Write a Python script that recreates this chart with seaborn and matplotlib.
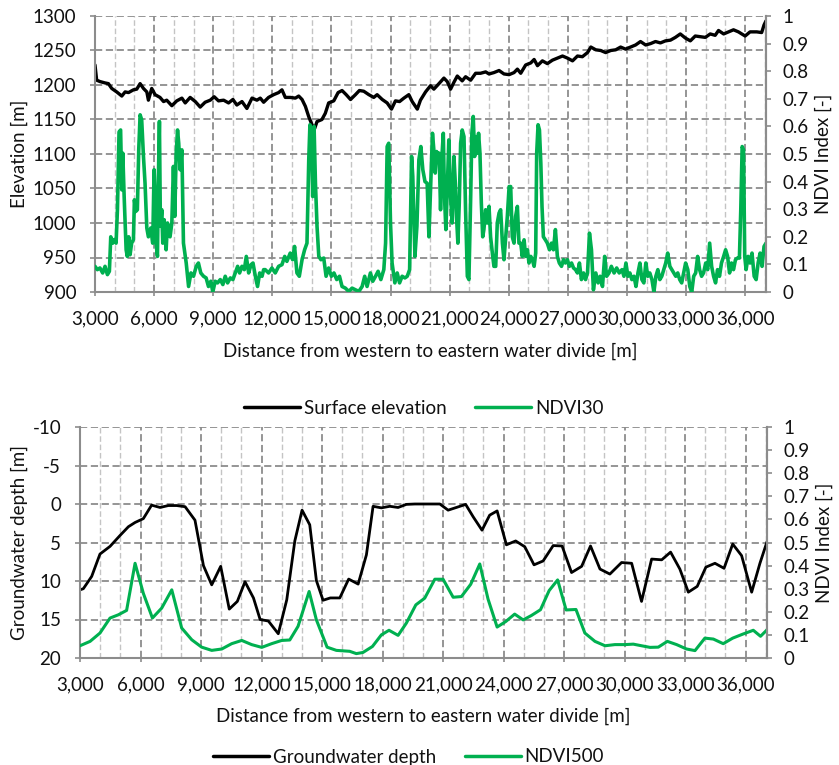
import numpy as np
import pandas as pd
import matplotlib
matplotlib.use("Agg")
import matplotlib.pyplot as plt
from matplotlib.ticker import MultipleLocator, FuncFormatter
from matplotlib.lines import Line2D
import seaborn as sns

# ---------------- DATA ----------------
# Top panel: surface elevation [m]
elev_dist = [3000, 3085, 3250, 3510, 3680, 3850, 4100, 4360, 4530, 4700, 4950, 5120, 5290, 5460, 5630,
             5710, 5880, 6050, 6300, 6480, 6640, 6900, 7150, 7410, 7580, 7830, 8090, 8340, 8590, 8850,
             9050, 9270, 9530, 9780, 10000, 10200, 10460, 10710, 10970, 11220, 11390, 11560, 11810, 12070,
             12320, 12490, 12660, 12910, 13170, 13340, 13510, 13680, 13850, 14020, 14150, 14270, 14520,
             14690, 14860, 15120, 15340, 15540, 15750, 15970, 16220, 16420, 16640, 16900, 17150, 17320,
             17580, 17830, 18050, 18250, 18460, 18680, 18930, 19100, 19360, 19520, 19780, 20030, 20200,
             20460, 20710, 20880, 21050, 21220, 21390, 21640, 21810, 22070, 22320, 22570, 22830, 23000,
             23250, 23510, 23760, 24020, 24270, 24440, 24610, 24860, 25120, 25290, 25460, 25710, 25960,
             26220, 26470, 26730, 26980, 27240, 27490, 27740, 28000, 28170, 28420, 28670, 28920, 29180,
             29430, 29680, 29930, 30190, 30440, 30690, 30950, 31200, 31450, 31700, 31960, 32210, 32460,
             32710, 32970, 33220, 33470, 33730, 33980, 34230, 34480, 34650, 34910, 35160, 35410, 35660,
             36000, 36250, 36590, 36840, 36960, 37060]
elevation = [1229, 1207, 1205, 1203, 1202, 1195, 1190, 1184, 1190, 1189, 1193, 1194, 1202, 1195, 1190,
             1178, 1195, 1186, 1182, 1176, 1178, 1170, 1177, 1181, 1174, 1182, 1176, 1168, 1175, 1178,
             1183, 1177, 1178, 1174, 1179, 1171, 1176, 1166, 1181, 1178, 1181, 1175, 1182, 1186,
             1189, 1193, 1182, 1182, 1181, 1184, 1179, 1169, 1154, 1142, 1137, 1147, 1150,
             1159, 1174, 1177, 1189, 1192, 1186, 1179, 1186, 1192, 1191, 1186, 1182, 1186,
             1179, 1174, 1165, 1177, 1176, 1181, 1186, 1176, 1165, 1178, 1190, 1199, 1194,
             1202, 1210, 1205, 1194, 1204, 1213, 1206, 1212, 1207, 1217, 1217, 1219, 1216,
             1218, 1221, 1216, 1215, 1218, 1223, 1217, 1229, 1232, 1237, 1228, 1235, 1231,
             1236, 1239, 1242, 1239, 1235, 1242, 1241, 1247, 1255, 1251, 1250, 1247, 1250,
             1251, 1255, 1252, 1255, 1258, 1263, 1258, 1260, 1263, 1261, 1264, 1265, 1269,
             1274, 1268, 1264, 1271, 1270, 1269, 1274, 1272, 1279, 1274, 1277, 1280, 1277,
             1271, 1277, 1277, 1276, 1287, 1293]

# Top panel: NDVI30 [-]
ndvi30_dist = [3000, 3120, 3250, 3390, 3510, 3630, 3730, 3800, 3900, 3970, 4070, 4140, 4220, 4300, 4360,
               4410, 4480, 4580, 4640, 4710, 4780, 4860, 4950, 5000, 5070, 5150, 5220, 5290, 5370, 5460,
               5540, 5630, 5710, 5830, 5930, 6000, 6050, 6100, 6170, 6220, 6270, 6320, 6390, 6440, 6510,
               6610, 6680, 6810, 6900, 6980, 7050, 7120, 7190, 7250, 7320, 7410, 7490, 7630, 7750, 7870,
               8000, 8140, 8250, 8370, 8510, 8640, 8760, 8880, 8980, 9100, 9220, 9360, 9490, 9610, 9730,
               9870, 10000, 10120, 10240, 10340, 10460, 10580, 10680, 10800, 10920, 11020, 11140, 11250,
               11360, 11480, 11560, 11640, 11810, 11980, 12150, 12320, 12490, 12630, 12740, 12910, 13030,
               13130, 13250, 13370, 13510, 13640, 13760, 13850, 13910, 13980, 14050, 14120, 14190, 14270,
               14360, 14470, 14610, 14730, 14860, 15000, 15130, 15270, 15410, 15540, 15710, 15880, 16050,
               16220, 16390, 16560, 16690, 16810, 16980, 17100, 17240, 17370, 17510, 17660, 17750, 17830,
               17910, 18000, 18080, 18220, 18340, 18460, 18590, 18730, 18850, 18970, 19070, 19130, 19240,
               19340, 19440, 19540, 19640, 19750, 19860, 19950, 20070, 20130, 20200, 20270, 20340, 20400,
               20470, 20540, 20610, 20680, 20740, 20810, 20880, 20960, 21050, 21130, 21220, 21290, 21350,
               21420, 21490, 21560, 21640, 21730, 21810, 21900, 21980, 22070, 22130, 22200, 22270, 22340,
               22410, 22470, 22540, 22610, 22680, 22740, 22830, 22910, 23000, 23080, 23170, 23250, 23340,
               23420, 23510, 23590, 23680, 23760, 23850, 23930, 24020, 24100, 24180, 24270, 24350, 24440,
               24520, 24610, 24690, 24780, 24860, 24950, 25030, 25120, 25200, 25290, 25370, 25420, 25490,
               25560, 25630, 25690, 25760, 25860, 25960, 26070, 26170, 26270, 26370, 26470, 26570, 26680,
               26780, 26880, 26980, 27080, 27190, 27290, 27390, 27490, 27590, 27690, 27800, 27900, 28000,
               28100, 28200, 28300, 28420, 28540, 28640, 28760, 28870, 28970, 29090, 29210, 29350, 29480,
               29610, 29750, 29850, 29950, 30050, 30150, 30250, 30360, 30460, 30560, 30660, 30760, 30860,
               30960, 31060, 31160, 31270, 31370, 31470, 31570, 31670, 31770, 31870, 31970, 32070, 32180,
               32280, 32380, 32480, 32580, 32680, 32780, 32880, 32980, 33090, 33190, 33290, 33390, 33490,
               33590, 33690, 33790, 33890, 34000, 34100, 34200, 34300, 34400, 34500, 34600, 34700, 34800,
               34910, 35010, 35110, 35210, 35310, 35410, 35510, 35610, 35710, 35780, 35850, 35920, 35980,
               36050, 36150, 36250, 36350, 36460, 36560, 36660, 36760, 36860, 36960, 37060]
ndvi30 = [0.093, 0.081, 0.087, 0.069, 0.093, 0.063, 0.075, 0.200, 0.177, 0.190, 0.177, 0.300, 0.580, 0.587, 0.370,
          0.503, 0.346, 0.153, 0.129, 0.200, 0.135, 0.177, 0.190, 0.334, 0.292, 0.298, 0.515, 0.642, 0.624, 0.491,
          0.394, 0.232, 0.200, 0.232, 0.177, 0.443, 0.346, 0.177, 0.129, 0.419, 0.618, 0.238, 0.298, 0.177, 0.262,
          0.153, 0.250, 0.200, 0.250, 0.455, 0.274, 0.503, 0.587, 0.539, 0.443, 0.515, 0.177, 0.105, 0.020, 0.069,
          0.057, 0.093, 0.105, 0.069, 0.057, 0.051, 0.020, 0.039, 0.000, 0.039, 0.033, 0.045, 0.027, 0.057, 0.033,
          0.051, 0.045, 0.069, 0.093, 0.069, 0.093, 0.081, 0.129, 0.069, 0.099, 0.105, 0.057, 0.020,
          0.069, 0.057, 0.081, 0.081, 0.069, 0.087, 0.069, 0.093, 0.099, 0.129, 0.111, 0.141, 0.117,
          0.165, 0.069, 0.057, 0.117, 0.153, 0.177, 0.479, 0.606, 0.587, 0.346, 0.600, 0.394, 0.238,
          0.129, 0.117, 0.123, 0.057, 0.087, 0.057, 0.069, 0.045, 0.057, 0.020, 0.014, 0.002, 0.014,
          0.008, 0.002, 0.020, 0.057, 0.020, 0.069, 0.039, 0.057, 0.075, 0.045, 0.081, 0.177, 0.527,
          0.539, 0.250, 0.105, 0.033, 0.069, 0.033, 0.057, 0.051, 0.057, 0.081, 0.491, 0.419, 0.129,
          0.238, 0.479, 0.527, 0.443, 0.400, 0.394, 0.200, 0.443, 0.575, 0.515, 0.431, 0.509, 0.491,
          0.503, 0.298, 0.491, 0.575, 0.346, 0.226, 0.370, 0.551, 0.346, 0.250, 0.491, 0.394, 0.274,
          0.177, 0.322, 0.539, 0.587, 0.563, 0.298, 0.057, 0.045, 0.346, 0.575, 0.636, 0.491, 0.563,
          0.503, 0.575, 0.503, 0.322, 0.200, 0.226, 0.298, 0.250, 0.310, 0.200, 0.141, 0.093, 0.093,
          0.250, 0.286, 0.298, 0.177, 0.117, 0.200, 0.274, 0.382, 0.382, 0.200, 0.177, 0.274, 0.310,
          0.177, 0.177, 0.129, 0.189, 0.129, 0.153, 0.105, 0.129, 0.117, 0.093, 0.141, 0.503, 0.606,
          0.587, 0.467, 0.310, 0.200, 0.189, 0.177, 0.153, 0.177, 0.153, 0.226, 0.129, 0.105, 0.093,
          0.117, 0.105, 0.117, 0.093, 0.105, 0.087, 0.081, 0.069, 0.105, 0.045, 0.069, 0.045, 0.069,
          0.213, 0.153, 0.008, 0.069, 0.033, 0.057, 0.020, 0.129, 0.057, 0.069, 0.093, 0.069, 0.087,
          0.069, 0.081, 0.057, 0.105, 0.057, 0.069, 0.045, 0.057, 0.020, 0.069, 0.105, 0.045, 0.033,
          0.105, 0.057, 0.069, 0.045, 0.000, 0.057, 0.081, 0.045, 0.057, 0.081, 0.105, 0.141, 0.093,
          0.081, 0.069, 0.057, 0.069, 0.045, 0.033, 0.069, 0.105, 0.081, 0.020, 0.000, 0.057, 0.069,
          0.129, 0.081, 0.057, 0.069, 0.105, 0.081, 0.177, 0.093, 0.057, 0.033, 0.081, 0.057, 0.105,
          0.129, 0.153, 0.129, 0.069, 0.105, 0.081, 0.117, 0.123, 0.123, 0.298, 0.527, 0.515, 0.129,
          0.081, 0.129, 0.105, 0.141, 0.057, 0.045, 0.105, 0.141, 0.093, 0.165, 0.177]

# Bottom panel: groundwater depth [m]
gw_dist = [3000, 3165, 3580, 3990, 4490, 4980, 5400, 5730, 6140, 6550, 6970, 7380, 7790, 8210, 8700,
           9120, 9530, 9975, 10400, 10800, 11180, 11600, 11930, 12340, 12830, 13250, 13650, 14010, 14390,
           14720, 15050, 15410, 15880, 16320, 16790, 17200, 17530, 17940, 18360, 18770, 19180, 19600,
           20010, 20420, 20840, 21250, 21660, 22120, 22490, 22930, 23310, 23680, 24140, 24600, 25050,
           25510, 25960, 26460, 26900, 27370, 27870, 28310, 28780, 29270, 29850, 30350, 30840, 31340,
           31840, 32280, 32740, 33160, 33600, 34030, 34480, 34930, 35360, 35800, 36300, 36710, 37060]
gw_depth = [11.15, 11.0, 9.4, 6.5, 5.5, 4.1, 2.95, 2.4, 1.9, 0.15, 0.45, 0.2, 0.2, 0.35, 2.1,
            8.0, 10.5, 8.1, 13.65, 12.65, 10.1, 12.2, 15.0, 15.2, 16.85, 12.45, 4.8, 0.8, 2.7,
            9.95, 12.5, 12.2, 12.2, 9.75, 10.4, 6.6, 0.3, 0.5, 0.3, 0.45, 0.05, 0.0,
            0.0, 0.0, 0.0, 0.8, 0.45, 0.05, 1.65, 3.4, 1.45, 0.9, 5.3, 4.8, 5.55,
            7.9, 7.4, 5.4, 5.45, 8.9, 8.1, 5.45, 8.45, 9.1, 7.6, 7.7, 12.65, 7.15,
            7.25, 6.25, 8.45, 11.45, 10.7, 8.2, 7.7, 8.35, 5.2, 6.7, 11.45, 7.7, 4.9]

# Bottom panel: NDVI500 [-]
ndvi500_dist = [3000, 3500, 3990, 4490, 4900, 5310, 5730, 6140, 6590, 7050, 7550, 8040, 8540, 9030, 9530,
                10030, 10520, 11020, 11510, 12010, 12500, 13000, 13400, 13810, 14360, 14720, 15250,
                15710, 16370, 16700, 17030, 17500, 17940, 18320, 18770, 19180, 19650, 20090, 20590,
                21000, 21500, 21910, 22370, 22820, 23230, 23680, 24110, 24550, 24970, 25380, 25830,
                26260, 26680, 27100, 27590, 28030, 28530, 29030, 29520, 30020, 30430, 30840, 31260,
                31670, 32120, 32580, 33070, 33490, 33980, 34400, 34890, 35360, 35880, 36380, 36740, 37060]
ndvi500 = [0.053, 0.072, 0.108, 0.173, 0.187, 0.206, 0.410, 0.280, 0.173, 0.216, 0.295, 0.130, 0.079, 0.047, 0.033,
           0.039, 0.062, 0.076, 0.058, 0.046, 0.062, 0.076, 0.078, 0.137, 0.288, 0.165, 0.047,
           0.033, 0.029, 0.019, 0.024, 0.050, 0.100, 0.120, 0.098, 0.151, 0.230, 0.259, 0.341,
           0.341, 0.263, 0.266, 0.319, 0.407, 0.255, 0.134, 0.158, 0.190, 0.165, 0.184, 0.209,
           0.292, 0.338, 0.208, 0.210, 0.108, 0.072, 0.053, 0.058, 0.058, 0.060, 0.053, 0.046,
           0.047, 0.072, 0.058, 0.039, 0.032, 0.086, 0.082, 0.062, 0.086, 0.104, 0.120, 0.094, 0.122]

x_ticks = [3000, 6000, 9000, 12000, 15000, 18000, 21000, 24000, 27000, 30000, 33000, 36000]

# ---------------- STYLE ----------------
sns.set_theme(style="white")
plt.rcParams['font.family'] = ['Lato', 'DejaVu Sans']
plt.rcParams['axes.unicode_minus'] = False
FS = 13.5
BLACK = "#000000"
GREEN = "#00B050"
GRID_MAJ = "#8c8c8c"
GRID_MIN = "#c4c4c4"
AXC = "#8c8c8c"
TXT = "#111111"
XMAX = 37060

fig = plt.figure(figsize=(8.39, 7.65), dpi=100)
ax1 = fig.add_axes([95/839, 1-292/765, 671/839, 276/765])
ax2 = fig.add_axes([80/839, 1-658/765, 687/839, 231/765])

thou = FuncFormatter(lambda v, p: f"{int(round(v)):,}")


def right_fmt(v, p):
    if abs(v) < 1e-9:
        return "0"
    if abs(v - 1) < 1e-9:
        return "1"
    return f"{v:.1f}"


def style_axes(ax, axr, ymin, ymax, ystep, invert=False):
    ax.set_xlim(3000, XMAX)
    ax.set_xticks(x_ticks)
    ax.xaxis.set_major_formatter(thou)
    ax.xaxis.set_minor_locator(MultipleLocator(1000))
    if invert:
        ax.set_ylim(ymax, ymin)
    else:
        ax.set_ylim(ymin, ymax)
    ax.yaxis.set_major_locator(MultipleLocator(ystep))
    ax.grid(which='major', axis='both', color=GRID_MAJ, linestyle=(0, (4, 2)), linewidth=1.3)
    ax.grid(which='minor', axis='x', color=GRID_MIN, linestyle=(0, (4, 2)), linewidth=1.0)
    ax.set_axisbelow(True)
    ax.spines['top'].set_visible(False)
    for s in ['left', 'bottom', 'right']:
        ax.spines[s].set_color(AXC)
        ax.spines[s].set_linewidth(1.5)
    ax.tick_params(axis='x', which='major', direction='out', length=3, width=1.2, color=AXC,
                   labelsize=FS, labelcolor=TXT, bottom=True, pad=10.5)
    ax.tick_params(axis='y', which='major', direction='out', length=3.5, width=1.2, color=AXC,
                   labelsize=FS, labelcolor=TXT, left=True, pad=10)
    ax.tick_params(axis='x', which='minor', length=0)
    axr.set_ylim(0, 1)
    axr.yaxis.set_major_locator(MultipleLocator(0.1))
    axr.yaxis.set_major_formatter(FuncFormatter(right_fmt))
    axr.grid(False)
    for s in ['top', 'left', 'bottom']:
        axr.spines[s].set_visible(False)
    axr.spines['right'].set_color(AXC)
    axr.spines['right'].set_linewidth(1.5)
    axr.tick_params(axis='y', which='major', direction='out', length=3.5, width=1.2, color=AXC,
                    labelsize=FS, labelcolor=TXT, right=True, pad=8.5)


# ---- Top panel ----
ax1r = ax1.twinx()
style_axes(ax1, ax1r, 900, 1300, 50)
df_e = pd.DataFrame({"dist": elev_dist, "elev": elevation})
df_n30 = pd.DataFrame({"dist": ndvi30_dist, "ndvi": ndvi30})
sns.lineplot(data=df_e, x="dist", y="elev", ax=ax1, color=BLACK, linewidth=2.4, sort=False, estimator=None)
sns.lineplot(data=df_n30, x="dist", y="ndvi", ax=ax1r, color=GREEN, linewidth=2.6, sort=False, estimator=None)
ax1.set_xlabel("Distance from western to eastern water divide [m]", fontsize=FS, labelpad=11, color=TXT)
ax1.set_ylabel("Elevation [m]", fontsize=FS, labelpad=3, color=TXT)
ax1r.set_ylabel("NDVI Index [-]", fontsize=FS, labelpad=4, color=TXT)
ax1.set_xlim(3000, XMAX)

# ---- Bottom panel ----
ax2r = ax2.twinx()
style_axes(ax2, ax2r, -10, 20, 5, invert=True)
df_g = pd.DataFrame({"dist": gw_dist, "depth": gw_depth})
df_n500 = pd.DataFrame({"dist": ndvi500_dist, "ndvi": ndvi500})
sns.lineplot(data=df_g, x="dist", y="depth", ax=ax2, color=BLACK, linewidth=2.0, sort=False, estimator=None)
sns.lineplot(data=df_n500, x="dist", y="ndvi", ax=ax2r, color=GREEN, linewidth=2.2, sort=False, estimator=None)
ax2.set_xlabel("Distance from western to eastern water divide [m]", fontsize=FS, labelpad=10, color=TXT)
ax2.set_ylabel("Groundwater depth [m]", fontsize=FS, labelpad=3, color=TXT)
ax2r.set_ylabel("NDVI Index [-]", fontsize=FS, labelpad=4, color=TXT)
ax2.set_xlim(3000, XMAX)
ax2.set_ylim(20, -10)

# ---- Legends ----
h1 = [Line2D([0], [0], color=BLACK, lw=2.5), Line2D([0], [0], color=GREEN, lw=2.5)]
fig.legend(h1, ["Surface elevation", "NDVI30"], loc='center', bbox_to_anchor=(0.505, 1-408/765),
           ncol=2, frameon=False, fontsize=FS, handlelength=3.0, handletextpad=0.2, columnspacing=1.5,
           labelcolor=TXT)
h2 = [Line2D([0], [0], color=BLACK, lw=2.5), Line2D([0], [0], color=GREEN, lw=2.5)]
fig.legend(h2, ["Groundwater depth", "NDVI500"], loc='center', bbox_to_anchor=(0.487, 1-757/765),
           ncol=2, frameon=False, fontsize=FS, handlelength=3.0, handletextpad=0.2, columnspacing=1.5,
           labelcolor=TXT)

fig.savefig("out.png", dpi=100)
